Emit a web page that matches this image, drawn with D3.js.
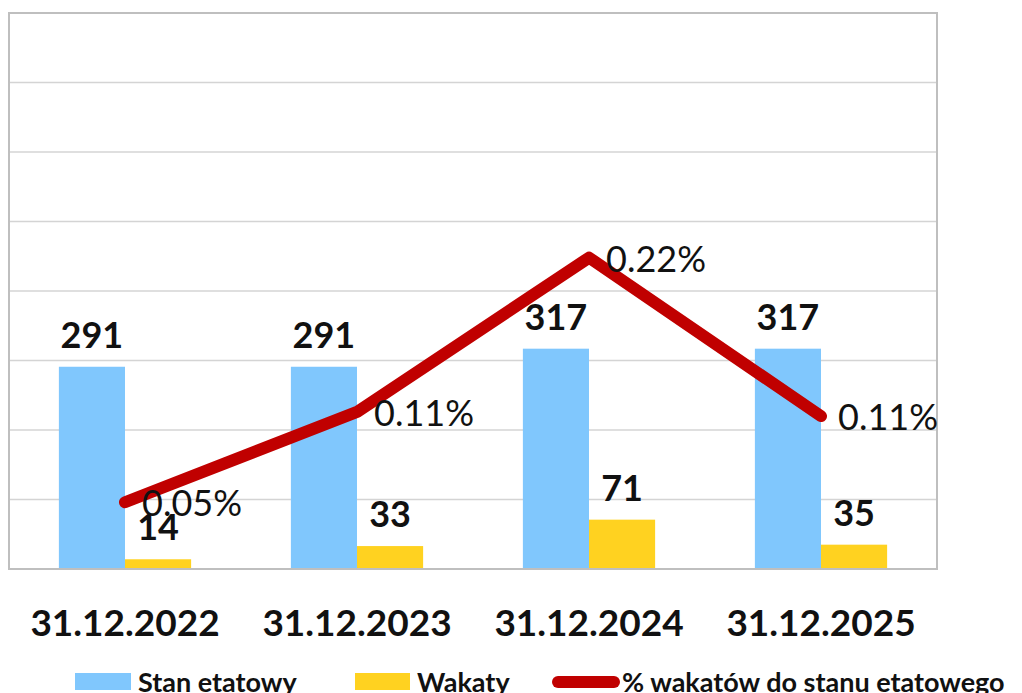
<!DOCTYPE html>
<html>
<head>
<meta charset="utf-8">
<script src="https://d3js.org/d3.v7.min.js"></script>
<style>
  body { margin: 0; background: #fff; }
  svg text { font-family: Lato, "Liberation Sans", sans-serif; fill: #111; }
</style>
</head>
<body>
<div id="chart"></div>
<script>
// data
var categories = ["31.12.2022", "31.12.2023", "31.12.2024", "31.12.2025"];
var stanEtatowy = [291, 291, 317, 317];
var wakaty = [14, 33, 71, 35];
var pctWakatow = [0.048, 0.113, 0.224, 0.110];
var seriesNames = ["Stan etatowy", "Wakaty", "% wakatów do stanu etatowego"];

var W = 1022, H = 693;
var pLeft = 9, pRight = 937, pTop = 13, pBottom = 569;

var svg = d3.select("#chart").append("svg").attr("width", W).attr("height", H);

var x0 = d3.scaleBand().domain(categories).range([pLeft, pRight]).padding(0);
var bw = x0.bandwidth();
var x1 = d3.scaleBand().domain(["stan", "wak"]).range([0.215 * bw, 0.785 * bw]);
var y = d3.scaleLinear().domain([0, 800]).range([pBottom, pTop]);
var y2 = d3.scaleLinear().domain([0, 0.4]).range([pBottom, pTop]);

// gridlines
svg.append("g").selectAll("line")
  .data(y.ticks(8))
  .enter().append("line")
  .attr("x1", pLeft).attr("x2", pRight)
  .attr("y1", function (d) { return y(d); })
  .attr("y2", function (d) { return y(d); })
  .attr("stroke", "#d4d4d4")
  .attr("stroke-width", 1.5);

var rows = categories.map(function (c, i) {
  return { cat: c, stan: stanEtatowy[i], wak: wakaty[i], pct: pctWakatow[i] };
});

// bars
var g = svg.append("g").selectAll("g")
  .data(rows).enter().append("g")
  .attr("transform", function (d) { return "translate(" + x0(d.cat) + ",0)"; });

g.append("rect")
  .attr("x", x1("stan")).attr("width", x1.bandwidth())
  .attr("y", function (d) { return y(d.stan); })
  .attr("height", function (d) { return pBottom - y(d.stan); })
  .attr("fill", "#80c7fd");

g.append("rect")
  .attr("x", x1("wak")).attr("width", x1.bandwidth())
  .attr("y", function (d) { return y(d.wak); })
  .attr("height", function (d) { return pBottom - y(d.wak); })
  .attr("fill", "#ffd220");

// plot border
svg.append("rect")
  .attr("x", pLeft).attr("y", pTop)
  .attr("width", pRight - pLeft).attr("height", pBottom - pTop)
  .attr("fill", "none").attr("stroke", "#bfbfbf").attr("stroke-width", 2);

// line
var lineGen = d3.line()
  .x(function (d) { return x0(d.cat) + bw / 2; })
  .y(function (d) { return y2(d.pct); });

svg.append("path")
  .datum(rows)
  .attr("d", lineGen)
  .attr("fill", "none")
  .attr("stroke", "#c00000")
  .attr("stroke-width", 12)
  .attr("stroke-linecap", "round")
  .attr("stroke-linejoin", "round");

// bar labels
g.append("text")
  .attr("x", x1("stan") + x1.bandwidth() / 2)
  .attr("y", function (d) { return y(d.stan) - 19; })
  .attr("text-anchor", "middle")
  .style("font-size", "36px").style("font-weight", "bold")
  .text(function (d) { return d.stan; });

g.append("text")
  .attr("x", x1("wak") + x1.bandwidth() / 2)
  .attr("y", function (d) { return y(d.wak) - 19; })
  .attr("text-anchor", "middle")
  .style("font-size", "36px").style("font-weight", "bold")
  .text(function (d) { return d.wak; });

// line labels
svg.append("g").selectAll("text")
  .data(rows).enter().append("text")
  .attr("x", function (d) { return x0(d.cat) + bw / 2 + 17; })
  .attr("y", function (d) { return y2(d.pct) + 14; })
  .style("font-size", "36px")
  .text(function (d) { return d3.format(".2f")(d.pct) + "%"; });

// category axis
var xAxis = svg.append("g")
  .attr("transform", "translate(0," + pBottom + ")")
  .call(d3.axisBottom(x0).tickSize(0).tickPadding(41));
xAxis.select(".domain").remove();
xAxis.selectAll("text")
  .style("font-size", "37px").style("font-weight", "bold")
  .style("font-family", "Lato, sans-serif").attr("fill", "#111");

// legend
var leg = svg.append("g");
leg.append("rect").attr("x", 75).attr("y", 673).attr("width", 56).attr("height", 17).attr("fill", "#80c7fd");
leg.append("text").attr("x", 138).attr("y", 692).text(seriesNames[0]);
leg.append("rect").attr("x", 355).attr("y", 673).attr("width", 55).attr("height", 17).attr("fill", "#ffd220");
leg.append("text").attr("x", 417).attr("y", 692).text(seriesNames[1]);
leg.append("line").attr("x1", 558).attr("x2", 614).attr("y1", 682).attr("y2", 682)
  .attr("stroke", "#c00000").attr("stroke-width", 12).attr("stroke-linecap", "round");
leg.append("text").attr("x", 622).attr("y", 692).text(seriesNames[2]);
leg.selectAll("text").style("font-size", "27px").style("font-weight", "bold");
</script>
</body>
</html>
